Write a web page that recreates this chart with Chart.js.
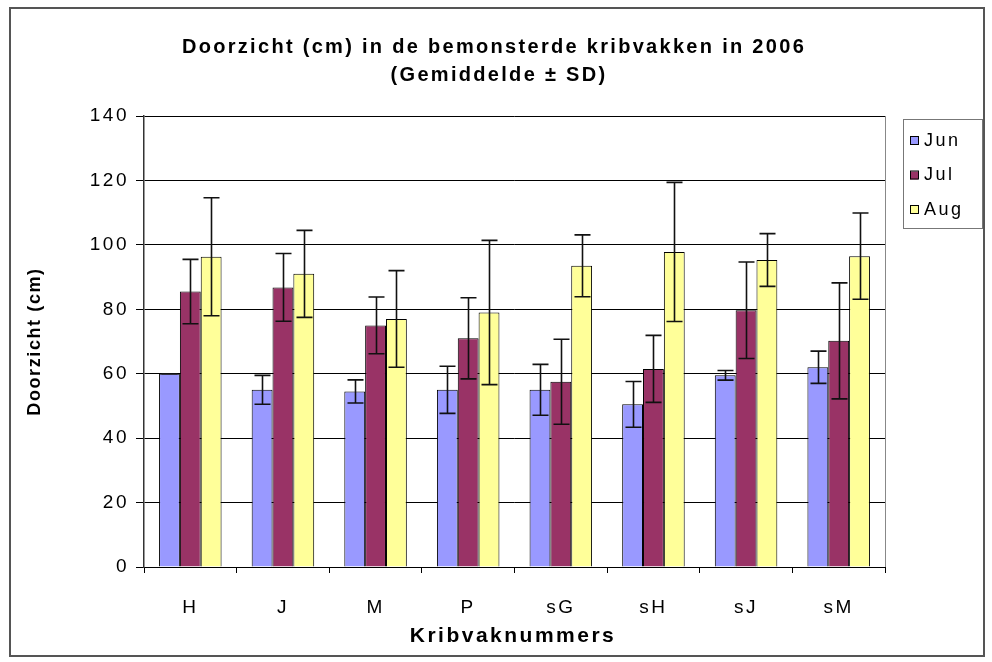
<!DOCTYPE html>
<html>
<head>
<meta charset="utf-8">
<title>Doorzicht kribvakken 2006</title>
<script src="https://cdn.jsdelivr.net/npm/chart.js@4.4.0/dist/chart.umd.min.js"></script>
<style>
  html, body { margin: 0; padding: 0; background: #fff; }
  #wrap { width: 992px; height: 662px; }
</style>
</head>
<body>
<div id="wrap"><canvas id="grafik" width="992" height="662"></canvas></div>
<script>
// kribvakken en maanden
const kribvakken = ['H', 'J', 'M', 'P', 'sG', 'sH', 'sJ', 'sM'];
const maanden = ['Jun', 'Jul', 'Aug'];

// gemiddeld doorzicht (cm) en standaarddeviatie per maand
const gemJun = [60, 55, 54.5, 55, 55, 50.5, 59.5, 62];
const sdJun  = [0, 4.5, 3.6, 7.3, 7.9, 7.1, 1.5, 5];
const gemJul = [85.5, 86.8, 75, 71, 57.5, 61.5, 79.7, 70.2];
const sdJul  = [10, 10.5, 8.8, 12.6, 13.2, 10.4, 15, 18];
const gemAug = [96.3, 91, 77, 79, 93.5, 97.8, 95.3, 96.5];
const sdAug  = [18.3, 13.5, 15, 22.4, 9.6, 21.6, 8.2, 13.4];

const yTicks = [0, 20, 40, 60, 80, 100, 120, 140];

const kleuren = ['#9999FF', '#993366', '#FFFF99'];
const FONT = '"Liberation Sans", Arial, sans-serif';

const titel = ['Doorzicht (cm) in de bemonsterde kribvakken in 2006', '(Gemiddelde \u00B1 SD)'];
const xTitel = 'Kribvaknummers';
const yTitel = 'Doorzicht (cm)';

function tekst(ctx, str, x, y, font, spacing, align) {
  ctx.save();
  ctx.font = font;
  ctx.letterSpacing = spacing + 'px';
  ctx.fillStyle = '#000';
  ctx.textAlign = align || 'center';
  ctx.textBaseline = 'middle';
  ctx.fillText(str, x, y);
  ctx.restore();
}

// kader, titels, legenda
const opmaak = {
  id: 'opmaak',
  beforeLayout(chart) {
    chart.ctx.letterSpacing = '2.5px';
  },
  beforeDraw(chart) {
    const ctx = chart.ctx;
    ctx.save();
    ctx.fillStyle = '#fff';
    ctx.fillRect(0, 0, chart.width, chart.height);
    ctx.strokeStyle = '#555';
    ctx.lineWidth = 2;
    ctx.strokeRect(10, 8, 974, 648);
    ctx.restore();
    ctx.letterSpacing = '2.5px';
  },
  afterDraw(chart) {
    const ctx = chart.ctx;
    const a = chart.chartArea;
    ctx.save();
    ctx.strokeStyle = '#888';
    ctx.lineWidth = 1;
    ctx.beginPath();
    ctx.moveTo(a.right + 0.5, a.top);
    ctx.lineTo(a.right + 0.5, a.bottom);
    ctx.stroke();
    ctx.restore();

    tekst(ctx, titel[0], 494, 47, 'bold 20px ' + FONT, 2.3);
    tekst(ctx, titel[1], 499, 75, 'bold 20px ' + FONT, 2.3);
    tekst(ctx, xTitel, 513, 636, 'bold 21px ' + FONT, 2.5);

    ctx.save();
    ctx.translate(35, (a.top + a.bottom) / 2);
    ctx.rotate(-Math.PI / 2);
    tekst(ctx, yTitel, 0, 0, 'bold 18px ' + FONT, 1.6);
    ctx.restore();

    // legenda
    ctx.save();
    ctx.strokeStyle = '#777';
    ctx.lineWidth = 1;
    ctx.strokeRect(903.5, 119.5, 79, 109);
    chart.data.datasets.forEach((ds, i) => {
      const y = 141 + i * 34.5;
      ctx.fillStyle = ds.backgroundColor;
      ctx.fillRect(910, y - 4, 8, 8);
      ctx.strokeStyle = '#000';
      ctx.strokeRect(910.5, y - 4.5, 8, 8);
      tekst(ctx, ds.label, 924, y, '18px ' + FONT, 2.5, 'left');
    });
    ctx.restore();
  }
};

// foutbalken (gemiddelde ± SD)
const foutbalken = {
  id: 'foutbalken',
  afterDatasetsDraw(chart) {
    const ctx = chart.ctx;
    const y = chart.scales.y;
    ctx.save();
    ctx.strokeStyle = '#111';
    ctx.lineWidth = 1.6;
    chart.data.datasets.forEach((ds, i) => {
      const meta = chart.getDatasetMeta(i);
      meta.data.forEach((bar, j) => {
        const gem = ds.data[j];
        const sd = ds.sd[j];
        const top = y.getPixelForValue(gem + sd);
        const bot = y.getPixelForValue(gem - sd);
        const x = Math.round(bar.x) + 0.5;
        ctx.beginPath();
        ctx.moveTo(x, top);
        ctx.lineTo(x, bot);
        ctx.moveTo(x - 8, top);
        ctx.lineTo(x + 8, top);
        ctx.moveTo(x - 8, bot);
        ctx.lineTo(x + 8, bot);
        ctx.stroke();
      });
    });
    ctx.restore();
  }
};

const reeksen = [gemJun, gemJul, gemAug];
const sds = [sdJun, sdJul, sdAug];

new Chart(document.getElementById('grafik'), {
  type: 'bar',
  data: {
    labels: kribvakken,
    datasets: maanden.map((m, i) => ({
      label: m,
      data: reeksen[i],
      sd: sds[i],
      backgroundColor: kleuren[i],
      borderColor: '#000',
      borderWidth: 1,
      categoryPercentage: 0.675,
      barPercentage: 1.0
    }))
  },
  options: {
    responsive: false,
    animation: false,
    devicePixelRatio: 1,
    layout: { padding: { top: 116, right: 107, bottom: 0, left: 10 } },
    plugins: {
      legend: { display: false },
      title: { display: false },
      tooltip: { enabled: false }
    },
    scales: {
      x: {
        grid: { display: true, drawOnChartArea: false, color: '#000', tickLength: 6, offset: true },
        border: { display: true, color: '#000', width: 1 },
        ticks: { color: '#000', font: { family: FONT, size: 19 }, padding: 23 },
        afterFit(scale) { scale.height = 95; }
      },
      y: {
        min: 0,
        max: 140,
        afterBuildTicks(scale) { scale.ticks = yTicks.map(v => ({ value: v })); },
        grid: { color: '#000', lineWidth: 1, tickLength: 8 },
        border: { display: true, color: '#333', width: 1.5 },
        ticks: { color: '#000', font: { family: FONT, size: 19 }, padding: 7 },
        afterFit(scale) { scale.width = 134; }
      }
    }
  },
  plugins: [opmaak, foutbalken]
});
</script>
</body>
</html>
